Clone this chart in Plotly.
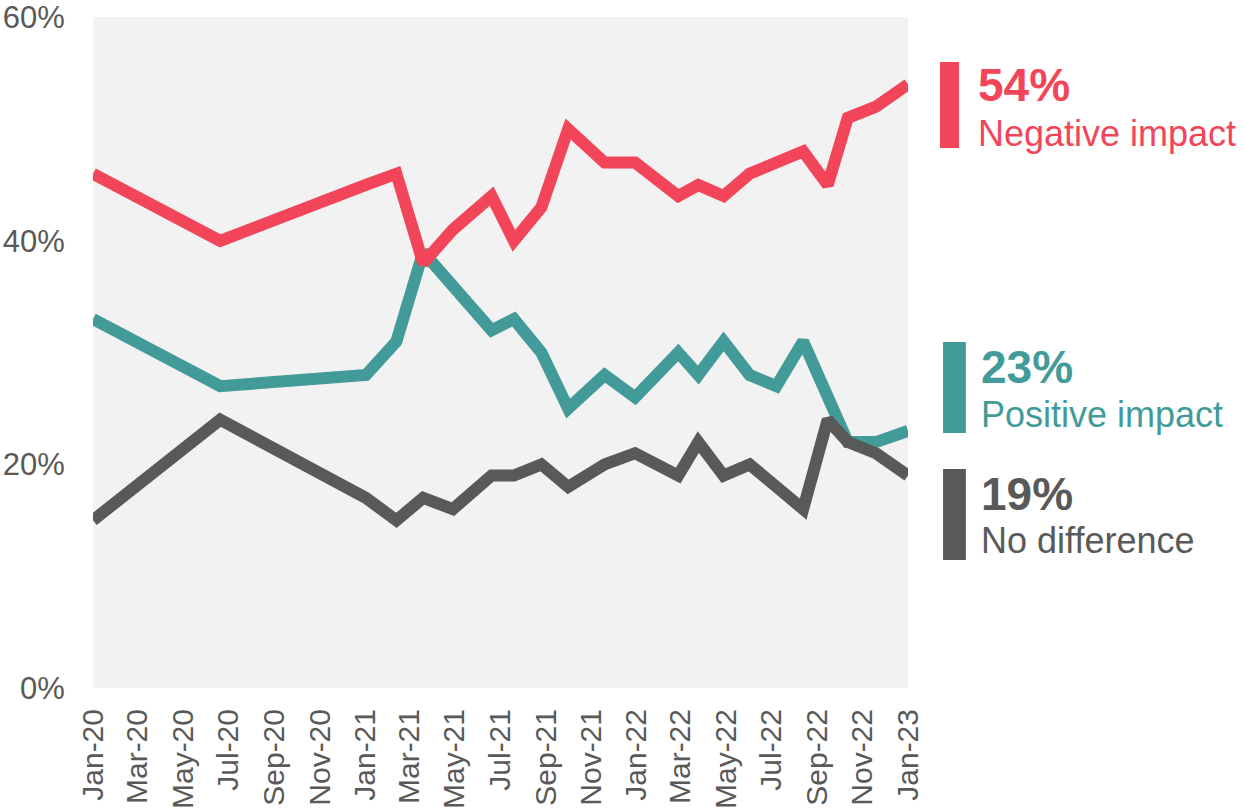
import plotly.graph_objects as go

# survey wave dates
dates = ["2020-01-01", "2020-06-20", "2021-01-02", "2021-02-12", "2021-03-20",
         "2021-04-29", "2021-06-20", "2021-07-20", "2021-08-26", "2021-10-01",
         "2021-11-19", "2021-12-30", "2022-02-26", "2022-03-25", "2022-04-28",
         "2022-06-02", "2022-07-08", "2022-08-13", "2022-09-15", "2022-10-12",
         "2022-11-19", "2023-01-01"]

negative = [46, 40, 45, 46, 38, 41, 44, 40, 43, 50, 47, 47, 44, 45, 44, 46, 47, 48, 45, 51, 52, 54]
positive = [33, 27, 28, 31, 39, 36, 32, 33, 30, 25, 28, 26, 30, 28, 31, 28, 27, 31, 26, 22, 22, 23]
no_diff = [15, 24, 17, 15, 17, 16, 19, 19, 20, 18, 20, 21, 19, 22, 19, 20, 18, 16, 24, 22, 21, 19]

y_ticks = [0, 20, 40, 60]
y_ticktext = ["0%", "20%", "40%", "60%"]

RED = "#F2455A"
TEAL = "#429B99"
GREY = "#595959"
FONT = "Liberation Sans, Arial, sans-serif"

fig = go.Figure()

# teal under grey, red on top
fig.add_trace(go.Scatter(x=dates, y=positive, mode="lines", name="Positive impact",
                         line=dict(color=TEAL, width=12)))
fig.add_trace(go.Scatter(x=dates, y=no_diff, mode="lines", name="No difference",
                         line=dict(color=GREY, width=12)))
fig.add_trace(go.Scatter(x=dates, y=negative, mode="lines", name="Negative impact",
                         line=dict(color=RED, width=12)))

# labels on the right: coloured bar, latest value, series name
labels = [
    # (color, bar x0, bar x1, bar y0, bar y1, text x, value text, value y, name, name y)
    (RED, 1.0393, 1.0626, 48.3, 56.0, 1.0835, "54%", 53.9, "Negative impact", 49.56),
    (TEAL, 1.0430, 1.0710, 22.8, 30.96, 1.0871, "23%", 28.72, "Positive impact", 24.5),
    (GREY, 1.0430, 1.0710, 11.45, 19.6, 1.0871, "19%", 17.35, "No difference", 13.2),
]
for col, bx0, bx1, by0, by1, tx, val, vy, name, ny in labels:
    fig.add_shape(type="rect", xref="paper", yref="y", x0=bx0, x1=bx1, y0=by0, y1=by1,
                  fillcolor=col, line=dict(width=0))
    fig.add_annotation(xref="paper", yref="y", x=tx, y=vy, text="<b>" + val + "</b>",
                       xanchor="left", yanchor="middle", showarrow=False,
                       font=dict(family=FONT, size=46, color=col))
    fig.add_annotation(xref="paper", yref="y", x=tx, y=ny, text=name,
                       xanchor="left", yanchor="middle", showarrow=False,
                       font=dict(family=FONT, size=36, color=col))

fig.update_xaxes(type="date", range=["2020-01-01", "2023-01-01"],
                 tick0="2020-01-01", dtick="M2", tickformat="%b-%y",
                 tickangle=-90, showgrid=False, zeroline=False, showline=False,
                 ticks="outside", ticklen=8, tickcolor="rgba(0,0,0,0)",
                 tickfont=dict(family=FONT, size=30, color=GREY))
fig.update_yaxes(range=[0, 60.02], tickvals=y_ticks, ticktext=y_ticktext,
                 showgrid=False, zeroline=False, showline=False,
                 ticks="outside", ticklen=21, tickcolor="rgba(0,0,0,0)",
                 tickfont=dict(family=FONT, size=31, color=GREY))

fig.update_layout(
    width=1245, height=812,
    margin=dict(l=93, r=337, t=17, b=124, autoexpand=False),
    plot_bgcolor="#F2F2F2",
    paper_bgcolor="white",
    showlegend=False,
)

# drop the default page margin so the figure sits at the top left corner
fig.write_html("out.html", config={"displayModeBar": False},
               post_script="document.body.style.margin='0';")
